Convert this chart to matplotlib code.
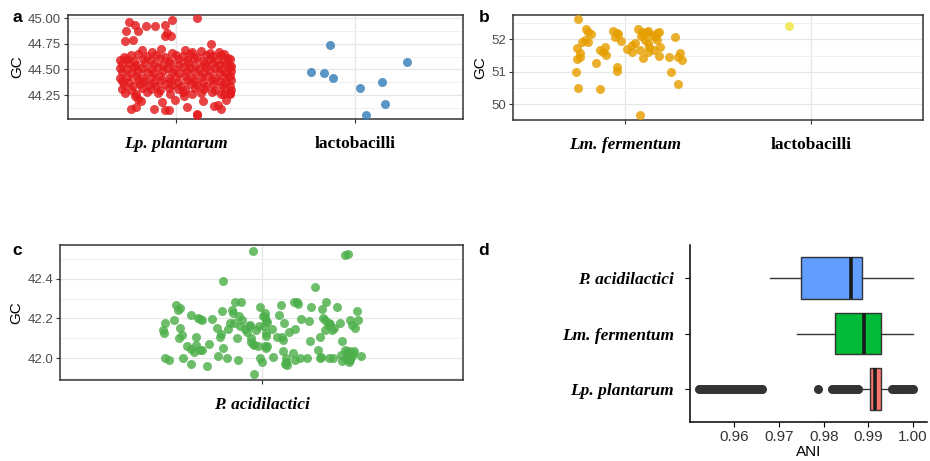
import numpy as np
import matplotlib
matplotlib.use("Agg")
import matplotlib.pyplot as plt

# ---------------- data ----------------
# panel a: GC of Lp. plantarum (x = jitter offset, y = GC) and lactobacilli
lp_jit = [
    -0.262, -0.225, -0.277, -0.210, -0.163, -0.113, -0.061, -0.020, 0.119, -0.048, -0.061, -0.024, -0.280, -0.238, 0.195,
    -0.251, -0.219, -0.123, -0.058, -0.037, -0.074, 0.063, 0.119, 0.119, 0.152, 0.214, 0.236, 0.254, 0.279, 0.269, 0.301,
    -0.210, -0.195, -0.228, -0.004, 0.046,
    -0.19, -0.13, -0.08, -0.02, 0.05, 0.09, 0.14, 0.19, 0.24, 0.27,
    -0.29, -0.25, -0.21, -0.16, -0.11, -0.06, 0.00, 0.04, 0.08, 0.12, 0.17, 0.21, 0.25, 0.29,
    -0.31, -0.27, -0.23, -0.18, -0.14, -0.09, -0.04, 0.01, 0.06, 0.10, 0.15, 0.19, 0.23, 0.27, 0.30,
    -0.30, -0.26, -0.22, -0.17, -0.12, -0.07, -0.03, 0.02, 0.07, 0.11, 0.16, 0.20, 0.24, 0.28, 0.31,
    -0.31, -0.27, -0.23, -0.19, -0.14, -0.10, -0.05, -0.01, 0.04, 0.08, 0.13, 0.17, 0.22, 0.26, 0.30,
    -0.30, -0.25, -0.21, -0.16, -0.12, -0.07, -0.02, 0.02, 0.06, 0.11, 0.15, 0.19, 0.24, 0.28, 0.31,
    -0.31, -0.27, -0.22, -0.18, -0.13, -0.09, -0.04, 0.00, 0.05, 0.09, 0.14, 0.18, 0.22, 0.27, 0.30,
    -0.30, -0.26, -0.21, -0.17, -0.12, -0.08, -0.03, 0.01, 0.06, 0.10, 0.15, 0.20, 0.24, 0.28, 0.31,
    -0.29, -0.24, -0.20, -0.15, -0.11, -0.06, -0.02, 0.03, 0.08, 0.12, 0.17, 0.21, 0.26, 0.30,
    -0.30, -0.25, -0.19, -0.14, -0.09, -0.04, 0.01, 0.05, 0.11, 0.16, 0.22, 0.27, 0.31,
    -0.28, -0.22, -0.16, -0.10, -0.03, 0.04, 0.09, 0.14, 0.20, 0.25, 0.30,
]
lp_gc = [
    44.958, 44.935, 44.877, 44.877, 44.919, 44.919, 44.929, 44.977, 44.997, 44.854, 44.821, 44.828, 44.773, 44.782, 44.747,
    44.117, 44.130, 44.117, 44.101, 44.107, 44.179, 44.130, 44.068, 44.052, 44.188, 44.146, 44.156, 44.114, 44.198, 44.260, 44.260,
    44.211, 44.195, 44.237, 44.205, 44.237,
    44.69, 44.67, 44.70, 44.66, 44.69, 44.67, 44.68, 44.66, 44.67, 44.65,
    44.62, 44.64, 44.65, 44.63, 44.64, 44.62, 44.64, 44.63, 44.65, 44.62, 44.64, 44.63, 44.64, 44.61,
    44.59, 44.60, 44.58, 44.60, 44.59, 44.61, 44.58, 44.60, 44.59, 44.61, 44.58, 44.60, 44.59, 44.58, 44.60,
    44.55, 44.56, 44.54, 44.56, 44.55, 44.54, 44.56, 44.55, 44.56, 44.54, 44.55, 44.56, 44.54, 44.55, 44.53,
    44.51, 44.50, 44.52, 44.51, 44.50, 44.52, 44.51, 44.50, 44.52, 44.51, 44.50, 44.52, 44.51, 44.50, 44.52,
    44.47, 44.46, 44.48, 44.47, 44.46, 44.48, 44.47, 44.46, 44.48, 44.47, 44.46, 44.48, 44.47, 44.46, 44.48,
    44.42, 44.43, 44.44, 44.42, 44.43, 44.44, 44.42, 44.43, 44.44, 44.42, 44.43, 44.44, 44.42, 44.43, 44.44,
    44.39, 44.38, 44.40, 44.39, 44.38, 44.40, 44.39, 44.38, 44.40, 44.39, 44.38, 44.40, 44.39, 44.38, 44.40,
    44.35, 44.34, 44.36, 44.35, 44.34, 44.36, 44.35, 44.34, 44.36, 44.35, 44.34, 44.36, 44.35, 44.34,
    44.31, 44.30, 44.32, 44.31, 44.30, 44.32, 44.31, 44.30, 44.32, 44.31, 44.30, 44.32, 44.30,
    44.27, 44.26, 44.28, 44.27, 44.26, 44.28, 44.26, 44.27, 44.28, 44.26, 44.27,
]
lacto_a_jit = [-0.139, -0.247, -0.176, -0.126, 0.028, 0.147, 0.288, 0.167, 0.061]
lacto_a_gc = [44.734, 44.471, 44.461, 44.419, 44.318, 44.380, 44.571, 44.166, 44.055]

# panel b: Lm. fermentum and lactobacilli
lm_jit = [
    -0.249, -0.209, -0.195, -0.181, -0.216, -0.231, -0.200, -0.254, -0.240, -0.254, -0.243, -0.261, -0.249,
    -0.154, -0.132, -0.132, -0.118, -0.106, -0.102, -0.061, -0.043, -0.034, -0.055, -0.020, -0.043, -0.043,
    0.011, 0.038, 0.039, 0.055, 0.073, 0.091, 0.100, 0.118, 0.127, 0.086, 0.079, 0.100, 0.109, 0.122, 0.131,
    0.127, 0.148, 0.163, 0.175, 0.172, 0.186, 0.154, 0.181, 0.190, 0.267, 0.238, 0.288, 0.297, 0.306, 0.249,
    0.284, 0.082,
]
lm_gc = [
    52.629, 52.309, 52.216, 52.155, 51.979, 51.928, 51.928, 51.742, 51.567, 51.381, 51.443, 51.000, 50.485,
    51.278, 50.454, 51.670, 51.619, 51.773, 51.515, 52.268, 52.186, 52.155, 52.082, 51.959, 51.155, 51.031,
    51.701, 51.619, 51.825, 51.897, 52.309, 52.237, 52.134, 52.237, 52.268, 52.103, 51.670, 51.412, 51.979, 51.876, 51.773,
    51.619, 52.134, 52.082, 51.979, 52.206, 52.216, 51.670, 51.485, 51.773, 52.082, 51.464, 51.443, 51.567, 51.361, 51.000,
    50.608, 49.660,
]
lacto_b_jit = [-0.120]
lacto_b_gc = [52.423]

# panel c: P. acidilactici
pa_jit = [
    -0.026, 0.248, 0.258, -0.115, 0.159, -0.294, -0.291, -0.288, -0.261, -0.254, -0.248, -0.244, -0.243, -0.236,
    -0.246, -0.233, -0.288, -0.276, -0.209, -0.196, -0.221, -0.211, -0.201, -0.194, -0.184, -0.177, -0.211,
    -0.182, -0.177, -0.189, -0.162, -0.157, -0.147, -0.132, -0.125, -0.122, -0.119, -0.114, -0.129, -0.102,
    -0.087, -0.085, -0.079, -0.072, -0.069, -0.061, -0.067, -0.058, -0.063, -0.082, -0.094, -0.099, -0.048,
    -0.043, -0.038, -0.035, -0.031, -0.030, -0.026, -0.023, -0.016, -0.021, -0.010, -0.006, -0.003, 0.004,
    0.009, 0.010, 0.012, 0.017, 0.007, 0.012, 0.014, 0.009, 0.012, 0.017, -0.003, 0.002, 0.030, 0.035, 0.047,
    0.052, 0.059, 0.060, 0.063, 0.064, 0.066, 0.073, 0.076, 0.073, 0.081, 0.093, 0.096, 0.101, 0.106, 0.109,
    0.101, 0.116, 0.119, 0.136, 0.143, 0.146, 0.141, 0.173, 0.169, 0.173, 0.178, 0.181, 0.184, 0.190, 0.192,
    0.188, 0.197, 0.200, 0.205, 0.210, 0.217, 0.200, 0.212, 0.225, 0.235, 0.240, 0.237, 0.250, 0.255, 0.260,
    0.263, 0.265, 0.270, 0.272, 0.275, 0.263, 0.270, 0.278, 0.285, 0.287, 0.295, 0.253, 0.260, 0.240, 0.255,
    0.071,
]
pa_gc = [
    42.538, 42.521, 42.526, 42.388, 42.358, 42.143, 42.129, 42.176, 42.193, 42.269, 42.244, 42.255, 42.151, 42.118,
    42.101, 42.000, 42.000, 41.992, 42.218, 42.109, 42.062, 42.045, 42.030, 42.067, 42.039, 42.039, 41.970,
    42.197, 42.193, 42.202, 41.961, 42.071, 42.197, 42.151, 42.109, 42.123, 42.239, 42.050, 42.012, 42.000,
    42.244, 42.230, 42.281, 42.101, 41.992, 42.281, 42.213, 42.193, 42.160, 42.176, 42.176, 42.148, 42.146,
    42.134, 42.160, 42.168, 42.101, 42.079, 42.072, 42.067, 42.143, 41.921, 42.059, 42.160, 42.260, 42.213,
    42.205, 42.227, 42.185, 42.180, 42.160, 42.126, 42.113, 42.059, 42.050, 42.059, 42.000, 41.983, 42.146, 42.008, 42.106,
    42.218, 42.269, 42.106, 42.092, 42.034, 42.176, 42.000, 41.966, 41.983, 42.134, 42.025, 42.281, 42.146, 42.281, 42.274,
    41.992, 42.000, 42.197, 42.000, 42.087, 42.257, 42.185, 42.109, 42.042, 42.000, 42.008, 42.247, 42.202, 42.193, 42.281,
    42.143, 42.168, 42.176, 42.171, 42.143, 42.151, 42.000, 42.000, 42.260, 42.176, 42.087, 42.017, 42.042, 42.029, 42.034,
    42.000, 41.992, 42.012, 42.025, 42.034, 42.190, 42.168, 42.151, 42.240, 42.190, 42.012, 41.995, 41.983, 41.987, 42.008,
    41.970,
]

# panel d: ANI boxplot summaries (bottom to top)
ani_species = ["Lp. plantarum", "Lm. fermentum", "P. acidilactici"]
ani_whislo = [0.9877, 0.9741, 0.9681]
ani_q1 = [0.9903, 0.9825, 0.9749]
ani_med = [0.9914, 0.9890, 0.9861]
ani_q3 = [0.9928, 0.9928, 0.9886]
ani_whishi = [0.9953, 1.0000, 1.0000]
ani_fliers_lp = [
    0.9522, 0.9526, 0.9530, 0.9534, 0.9539, 0.9543, 0.9547, 0.9552, 0.9556, 0.9561, 0.9565, 0.9570, 0.9574,
    0.9579, 0.9583, 0.9588, 0.9592, 0.9597, 0.9601, 0.9606, 0.9611, 0.9615, 0.9620, 0.9625, 0.9629, 0.9634,
    0.9638, 0.9643, 0.9647, 0.9652, 0.9656, 0.9660, 0.9663,
    0.9788,
    0.9818, 0.9822, 0.9827, 0.9831, 0.9836, 0.9840, 0.9845, 0.9849, 0.9853, 0.9858, 0.9862, 0.9866, 0.9870, 0.9874, 0.9877,
    0.9953, 0.9957, 0.9961, 0.9965, 0.9969, 0.9973, 0.9977, 0.9981, 0.9985, 0.9989, 0.9993, 0.9997, 1.0000,
]
ani_colors = ["#F8766D", "#00BA38", "#619CFF"]
ani_ticks = [0.96, 0.97, 0.98, 0.99, 1.00]

# ---------------- drawing ----------------
SANS = "Liberation Sans"
SERIF = "Liberation Serif"
plt.rcParams["font.family"] = SANS

fig = plt.figure(figsize=(9.3, 4.61), dpi=100)
W, H = 930.0, 461.0


def add_axes(l, t, r, b):
    return fig.add_axes([l / W, 1 - b / H, (r - l) / W, (b - t) / H])


def bw_style(ax, ylim, majors, minors, fmt):
    ax.set_ylim(*ylim)
    ax.set_yticks(majors)
    ax.set_yticklabels([fmt.format(v) for v in majors])
    ax.set_yticks(minors, minor=True)
    ax.grid(True, which="major", color="#E6E6E6", lw=0.9, zorder=0)
    ax.grid(True, which="minor", axis="y", color="#F0F0F0", lw=0.7, zorder=0)
    ax.tick_params(which="minor", left=False)
    ax.set_axisbelow(True)
    for s in ax.spines.values():
        s.set_color("#333333")
        s.set_linewidth(1.1)
    ax.tick_params(axis="y", labelsize=9.5, labelcolor="#4D4D4D", color="#333333", length=3, pad=2)
    ax.tick_params(axis="x", color="#333333", length=3, pad=9)
    ax.set_ylabel("GC", fontsize=11, color="black", labelpad=3)


def cat_labels(ax, labels, italics):
    ax.set_xticklabels(labels, fontfamily=SERIF, fontweight="bold", fontsize=12.5, color="black")
    for lab, it in zip(ax.get_xticklabels(), italics):
        lab.set_fontstyle("italic" if it else "normal")


# panel a
axa = add_axes(68, 15, 463, 119)
axa.scatter(1 + np.array(lp_jit), lp_gc, s=42, color="#E41A1C", alpha=0.82, lw=0, zorder=3)
axa.scatter(2 + np.array(lacto_a_jit), lacto_a_gc, s=42, color="#377EB8", alpha=0.82, lw=0, zorder=3)
axa.set_xlim(0.4, 2.6)
axa.set_xticks([1, 2])
bw_style(axa, (44.016, 45.03), [44.25, 44.50, 44.75, 45.00], [44.125, 44.375, 44.625, 44.875], "{:.2f}")
cat_labels(axa, ["Lp. plantarum", "lactobacilli"], [True, False])

# panel b
axb = add_axes(513, 15, 923, 120)
axb.scatter(1 + np.array(lm_jit), lm_gc, s=42, color="#E69F00", alpha=0.82, lw=0, zorder=3)
axb.scatter(2 + np.array(lacto_b_jit), lacto_b_gc, s=42, color="#F0E442", alpha=0.82, lw=0, zorder=3)
axb.set_xlim(0.4, 2.6)
axb.set_xticks([1, 2])
bw_style(axb, (49.51, 52.75), [50, 51, 52], [50.5, 51.5, 52.5], "{:.0f}")
cat_labels(axb, ["Lm. fermentum", "lactobacilli"], [True, False])

# panel c
axc = add_axes(60, 245, 463, 380)
axc.scatter(1 + np.array(pa_jit), pa_gc, s=42, color="#4DAF4A", alpha=0.82, lw=0, zorder=3)
axc.set_xlim(0.4, 1.6)
axc.set_xticks([1])
bw_style(axc, (41.89, 42.57), [42.0, 42.2, 42.4], [41.9, 42.1, 42.3, 42.5], "{:.1f}")
cat_labels(axc, ["P. acidilactici"], [True])

# panel d
axd = add_axes(690, 245, 927, 422)
stats = []
for i in range(3):
    stats.append(dict(med=ani_med[i], q1=ani_q1[i], q3=ani_q3[i],
                      whislo=ani_whislo[i], whishi=ani_whishi[i],
                      fliers=np.array(ani_fliers_lp if i == 0 else []), label=ani_species[i]))
common = dict(positions=[1, 2, 3], widths=0.75, patch_artist=True,
              boxprops=dict(edgecolor="#333333", linewidth=1.0),
              medianprops=dict(color="#1A1A1A", linewidth=2.6),
              whiskerprops=dict(color="#333333", linewidth=1.0),
              capprops=dict(linewidth=0),
              flierprops=dict(marker="o", markerfacecolor="#333333", markeredgewidth=0, markersize=6.5, alpha=1))
try:
    bp = axd.bxp(stats, orientation="horizontal", **common)
except TypeError:
    bp = axd.bxp(stats, vert=False, **common)
for patch, c in zip(bp["boxes"], ani_colors):
    patch.set_facecolor(c)
axd.set_xlim(0.9501, 1.0031)
axd.set_ylim(0.4, 3.6)
axd.set_xticks(ani_ticks)
axd.set_xticklabels(["{:.2f}".format(v) for v in ani_ticks])
axd.set_yticks([1, 2, 3])
axd.set_yticklabels(ani_species, fontfamily=SERIF, fontweight="bold", fontstyle="italic", fontsize=12.5)
axd.spines["top"].set_visible(False)
axd.spines["right"].set_visible(False)
for s in ("left", "bottom"):
    axd.spines[s].set_linewidth(1.1)
    axd.spines[s].set_color("black")
axd.tick_params(axis="x", labelsize=11, labelcolor="#333333", length=3.5, pad=2)
axd.tick_params(axis="y", length=3.5, pad=8)
axd.set_xlabel("ANI", fontsize=11, labelpad=1)

# panel letters
for txt, x, y in [("a", 17, 18), ("b", 484, 18), ("c", 17, 250), ("d", 484, 250)]:
    fig.text(x / W, 1 - y / H, txt, fontsize=12.5, fontweight="bold", ha="center", va="center")

fig.savefig("out.png", dpi=100)
